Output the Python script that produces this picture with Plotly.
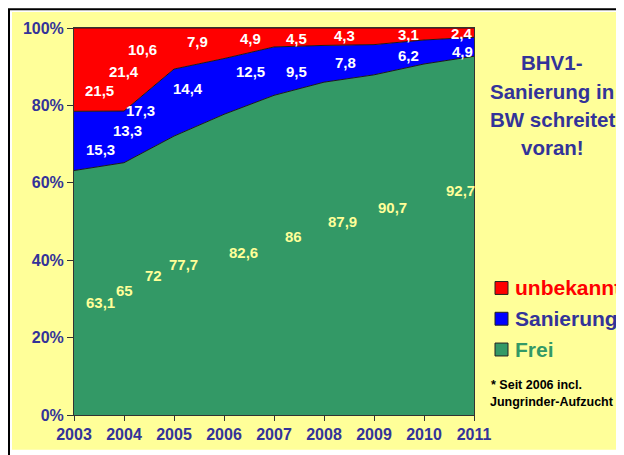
import plotly.graph_objects as go

years = [2003, 2004, 2005, 2006, 2007, 2008, 2009, 2010, 2011]
frei = [63.1, 65, 72, 77.7, 82.6, 86, 87.9, 90.7, 92.7]
sanierung = [15.3, 13.3, 17.3, 14.4, 12.5, 9.5, 7.8, 6.2, 4.9]
unbekannt = [21.5, 21.4, 10.6, 7.9, 4.9, 4.5, 4.3, 3.1, 2.4]
frei_text = ["63,1", "65", "72", "77,7", "82,6", "86", "87,9", "90,7", "92,7"]
san_text = ["15,3", "13,3", "17,3", "14,4", "12,5", "9,5", "7,8", "6,2", "4,9"]
unb_text = ["21,5", "21,4", "10,6", "7,9", "4,9", "4,5", "4,3", "3,1", "2,4"]
y_ticks = [0, 20, 40, 60, 80, 100]

# label placement (layout only)
frei_lx = [2003.52, 2004.0, 2004.58, 2005.18, 2006.38, 2007.38, 2008.36, 2009.36, 2010.72]
frei_ly = [29, 32.3, 36, 39, 42, 46, 50, 53.5, 58]
san_lx = [2003.52, 2004.06, 2004.32, 2005.28, 2006.52, 2007.44, 2008.42, 2009.68, 2010.76]
san_ly = [68.5, 73.6, 78.7, 84.4, 88.7, 88.7, 91, 92.8, 94]
unb_lx = [2003.5, 2004.0, 2004.36, 2005.46, 2006.52, 2007.44, 2008.4, 2009.68, 2010.76]
unb_ly = [83.8, 88.7, 94.4, 96.4, 97.4, 97.4, 98, 98.2, 98.7]

GREEN = "#339966"
BLUE = "#0000FF"
RED = "#FF0000"
NAVY = "#333399"
YELLOW = "#FFFF99"
FONT = "Liberation Sans, Arial, sans-serif"

fig = go.Figure()
for name, vals, col in [("Frei", frei, GREEN), ("Sanierung", sanierung, BLUE), ("unbekannt", unbekannt, RED)]:
    fig.add_trace(go.Scatter(
        x=years, y=vals, name=name, mode="lines", stackgroup="one", groupnorm="percent",
        line=dict(color="#1a1a1a", width=1), fillcolor=col, hoverinfo="x+y+name"))

ann = []
for xs, ys, ts, c in [(frei_lx, frei_ly, frei_text, "#FFFF99"),
                      (san_lx, san_ly, san_text, "white"),
                      (unb_lx, unb_ly, unb_text, "white")]:
    for x, y, t in zip(xs, ys, ts):
        ann.append(dict(x=x, y=y, xref="x", yref="y", text="<b>%s</b>" % t, showarrow=False,
                        font=dict(family=FONT, size=15, color=c)))

# screen px -> paper helpers (plot area on screen x 74..474, y 28..418)
def px(p):
    return (p - 74) / 400.0

def py(p):
    return (418 - p) / 390.0

title_lines = ["BHV1-", "Sanierung in", "BW schreitet", "voran!"]
for i, t in enumerate(title_lines):
    ann.append(dict(x=px(552), y=py(63 + 28.5 * i), xref="paper", yref="paper", text="<b>%s</b>" % t,
                    showarrow=False, xanchor="center", yanchor="middle",
                    font=dict(family=FONT, size=20.5, color=NAVY)))

leg = [("unbekannt", RED, RED, 290), ("Sanierung", BLUE, NAVY, 321), ("Frei", GREEN, GREEN, 352)]
shapes = [
    dict(type="rect", xref="paper", yref="paper", x0=px(12), x1=px(640), y0=py(453), y1=py(12),
         fillcolor=YELLOW, line=dict(width=0), layer="below"),
    dict(type="rect", xref="paper", yref="paper", x0=px(9), x1=px(660), y0=py(470), y1=py(9),
         fillcolor="rgba(0,0,0,0)", line=dict(color="black", width=2), layer="below"),
]
for t, sq, tc, yc in leg:
    shapes.append(dict(type="rect", xref="paper", yref="paper", x0=px(495), x1=px(508),
                       y0=py(yc + 6.5), y1=py(yc - 6.5), fillcolor=sq, line=dict(color="#222", width=1)))
    ann.append(dict(x=px(513), y=py(yc), xref="paper", yref="paper", text="<b>%s</b>" % t,
                    showarrow=False, xanchor="left", yanchor="middle",
                    font=dict(family=FONT, size=21, color=tc)))

ann.append(dict(x=px(489), y=py(388), xref="paper", yref="paper", text="<b>* Seit 2006 incl.</b>",
                showarrow=False, xanchor="left", yanchor="middle", font=dict(family=FONT, size=12.5, color="black")))
ann.append(dict(x=px(488), y=py(405), xref="paper", yref="paper", text="<b>Jungrinder-Aufzucht</b>",
                showarrow=False, xanchor="left", yanchor="middle", font=dict(family=FONT, size=12.5, color="black")))

fig.update_layout(
    width=616, height=447,
    margin=dict(l=66, r=150, t=20, b=37, pad=0),
    paper_bgcolor="white", plot_bgcolor=YELLOW,
    showlegend=False,
    annotations=ann, shapes=shapes,
    font=dict(family=FONT),
)
fig.update_xaxes(range=[2003, 2011], tickvals=years, ticktext=["<b>%d</b>" % y for y in years],
                 tickfont=dict(family=FONT, size=16, color=NAVY), ticks="outside", ticklen=5,
                 tickcolor="#333", showgrid=False, zeroline=False, showline=True, linecolor="#333",
                 linewidth=1, mirror=True)
fig.update_yaxes(range=[0, 100], tickvals=y_ticks, ticktext=["<b>%d%%</b>" % v for v in y_ticks],
                 tickfont=dict(family=FONT, size=16, color=NAVY), ticks="outside", ticklen=6,
                 tickcolor="#333", showgrid=False, zeroline=False, showline=True, linecolor="#333",
                 linewidth=1, mirror=True)

fig.write_html("out.html")
